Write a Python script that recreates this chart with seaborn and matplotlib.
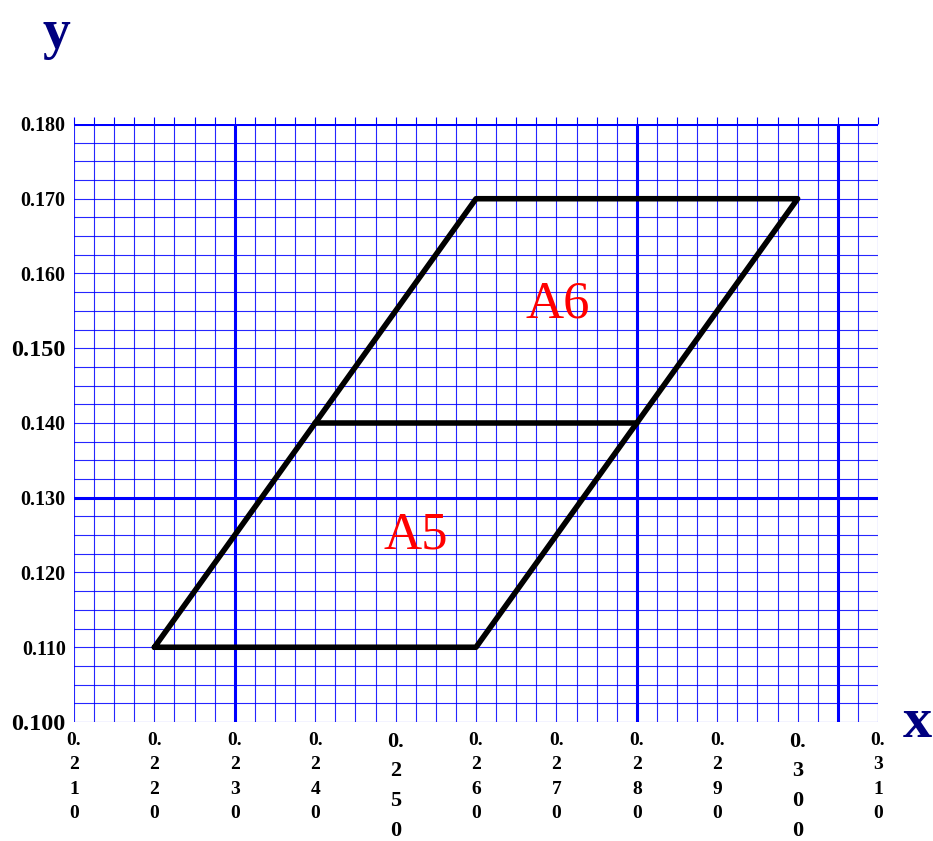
import numpy as np
import pandas as pd
import seaborn as sns
import matplotlib.pyplot as plt
from matplotlib.ticker import MultipleLocator

# parallelogram outline, traced once round, and the line splitting it in two
outline_x = [0.220, 0.260, 0.300, 0.260, 0.220]
outline_y = [0.110, 0.110, 0.170, 0.170, 0.110]
split_x = [0.240, 0.280]
split_y = [0.140, 0.140]

region_names = ['A6', 'A5']
region_x = [0.2702, 0.2525]
region_y = [0.1558, 0.1250]

x_ticks = [0.210, 0.220, 0.230, 0.240, 0.250, 0.260, 0.270, 0.280, 0.290, 0.300, 0.310]
y_ticks = [0.100, 0.110, 0.120, 0.130, 0.140, 0.150, 0.160, 0.170, 0.180]
big_x = [0.250, 0.300]
big_y = [0.100, 0.150]
heavy_x = [0.230, 0.280, 0.305]
heavy_y = [0.130, 0.180]

sns.set_style('white')
plt.rcParams['font.family'] = ['Liberation Serif', 'DejaVu Serif']
plt.rcParams['font.weight'] = 'bold'

fig = plt.figure(figsize=(9.33, 8.41), dpi=100)
ax = fig.add_axes([0.0793, 0.1415, 0.8618, 0.7111])

blue = '#0000ff'
ax.set_xlim(0.210, 0.310)
ax.set_ylim(0.100, 0.180)
ax.xaxis.set_major_locator(plt.FixedLocator(x_ticks))
ax.yaxis.set_major_locator(plt.FixedLocator(y_ticks))
ax.xaxis.set_minor_locator(MultipleLocator(0.0025))
ax.yaxis.set_minor_locator(MultipleLocator(0.0025))
ax.grid(which='both', color=blue, lw=0.8, alpha=0.85)
for v in heavy_x:
    ax.axvline(v, color=blue, lw=2.2, zorder=1)
for v in heavy_y:
    ax.axhline(v, color=blue, lw=2.2, zorder=1)
for s in ax.spines.values():
    s.set_visible(False)

ax.tick_params(which='both', axis='x', direction='out', length=4, color=blue, width=0.8,
               pad=3, top=True, labelcolor='black')
ax.tick_params(which='both', axis='y', direction='out', length=3, color=blue, width=0.8,
               pad=3, labelcolor='black')
for t in ax.xaxis.get_ticklines(minor=True) + ax.xaxis.get_ticklines():
    t.set_markersize(5)

ax.set_xticklabels(['0.\n' + '\n'.join(f'{v:.3f}'[2:]) for v in x_ticks])
ax.set_yticklabels([f'{v:.3f}' for v in y_ticks])
for v, lab in zip(x_ticks, ax.get_xticklabels()):
    big = any(abs(v - b) < 1e-9 for b in big_x)
    lab.set_fontsize(16 if big else 14)
    lab.set_linespacing(1.65 if big else 1.58)
    lab.set_fontweight('bold')
    lab.set_color('black')
for v, lab in zip(y_ticks, ax.get_yticklabels()):
    big = any(abs(v - b) < 1e-9 for b in big_y)
    lab.set_fontsize(17.5 if big else 14.5)
    lab.set_fontweight('bold')
    lab.set_color('black')

sns.lineplot(x=outline_x, y=outline_y, sort=False, estimator=None, color='black', lw=4, ax=ax, zorder=3)
sns.lineplot(x=split_x, y=split_y, sort=False, estimator=None, color='black', lw=4, ax=ax, zorder=3)

for name, tx, ty in zip(region_names, region_x, region_y):
    ax.text(tx, ty, name, color='red', fontsize=38, fontweight='normal', ha='center', va='center', zorder=4)

fig.text(0.06, 0.99, 'y', color='#000080', fontsize=40, fontweight='bold', ha='center', va='top')
fig.text(0.999, 0.14, 'x', color='#000080', fontsize=42, fontweight='bold', ha='right', va='center')

fig.savefig('out.png', dpi=100)
